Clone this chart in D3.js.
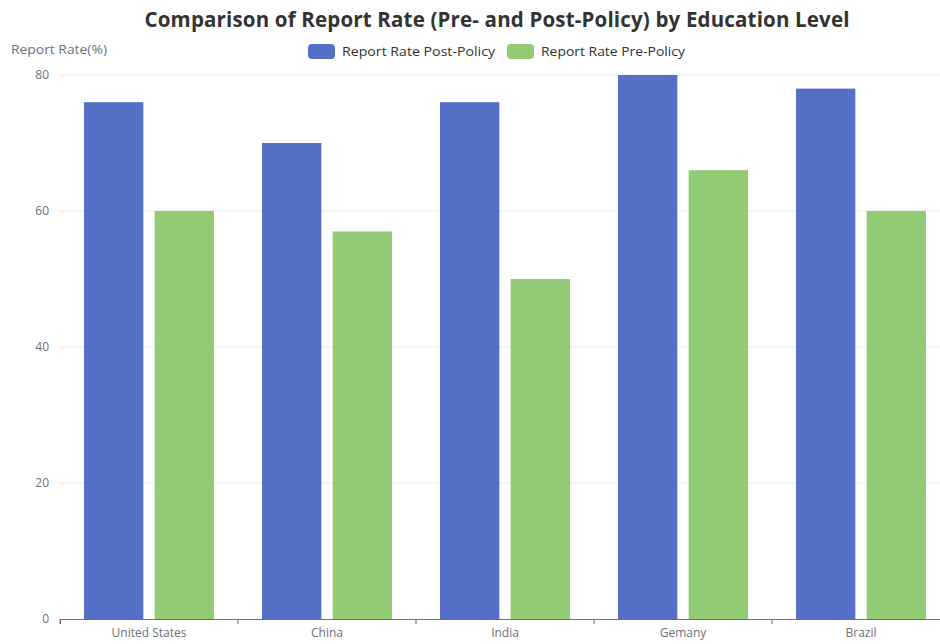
<!DOCTYPE html>
<html>
<head>
<meta charset="utf-8">
<script src="https://cdn.jsdelivr.net/npm/d3@7/dist/d3.min.js"></script>
<style>
  body { margin: 0; background: #fff; }
  svg { display: block; font-family: "Open Sans", "Noto Sans", sans-serif; }
</style>
</head>
<body>
<svg id="chart" width="940" height="644"></svg>
<script>
var countries = ["United States", "China", "India", "Gemany", "Brazil"];
var postPolicy = [76, 70, 76, 80, 78];
var prePolicy = [60, 57, 50, 66, 60];
var yTicks = [0, 20, 40, 60, 80];
var seriesNames = ["Report Rate Post-Policy", "Report Rate Pre-Policy"];
var seriesColors = ["#5470c6", "#91cc75"];

var svg = d3.select("#chart");
var plotLeft = 60, plotRight = 950, plotTop = 75, plotBottom = 619;

var x = d3.scaleBand().domain(countries).range([plotLeft, plotRight]);
var inner = d3.scaleBand().domain([0, 1]).range([0, x.bandwidth()])
	.paddingInner(0.16).paddingOuter(0.34);
var y = d3.scaleLinear().domain([0, 80]).range([plotBottom, plotTop]);

// grid
svg.append("g")
	.selectAll("line")
	.data(yTicks.filter(function(d) { return d > 0; }))
	.enter()
	.append("line")
	.attr("x1", plotLeft).attr("x2", plotRight)
	.attr("y1", function(d) { return y(d); })
	.attr("y2", function(d) { return y(d); })
	.attr("stroke", "#e8ebf2");

// bars
var rows = countries.map(function(c, i) { return [postPolicy[i], prePolicy[i]]; });
var groups = svg.append("g")
	.selectAll("g")
	.data(rows)
	.enter()
	.append("g")
	.attr("transform", function(d, i) { return "translate(" + x(countries[i]) + ",0)"; });

groups.selectAll("rect")
	.data(function(d) { return d; })
	.enter()
	.append("rect")
	.attr("x", function(d, i) { return inner(i); })
	.attr("width", inner.bandwidth())
	.attr("y", function(d) { return y(d); })
	.attr("height", function(d) { return y(0) - y(d); })
	.attr("fill", function(d, i) { return seriesColors[i]; });

// y axis labels
svg.append("g")
	.selectAll("text")
	.data(yTicks)
	.enter()
	.append("text")
	.attr("x", 49)
	.attr("y", function(d) { return y(d) + 4; })
	.attr("text-anchor", "end")
	.attr("font-size", 12)
	.attr("fill", "#6e7079")
	.text(function(d) { return d; });

// x axis
var xAxis = svg.append("g")
	.attr("transform", "translate(0," + plotBottom + ")")
	.call(d3.axisBottom(x).tickSizeOuter(0).tickSize(5));
xAxis.select(".domain").attr("stroke", "#6e7079");
xAxis.selectAll(".tick line").remove();
xAxis.selectAll(".tick text")
	.attr("font-size", 12)
	.attr("fill", "#6e7079")
	.attr("y", 7)
	.attr("dy", "0.95em")
	.attr("font-family", "\"Open Sans\", sans-serif");
var boundaries = countries.map(function(c) { return x(c); });
xAxis.selectAll(".bound")
	.data(boundaries)
	.enter()
	.append("line")
	.attr("x1", function(d) { return d; })
	.attr("x2", function(d) { return d; })
	.attr("y1", 0).attr("y2", 5)
	.attr("stroke", "#6e7079");

// title
svg.append("text")
	.attr("x", 497)
	.attr("y", 27)
	.attr("text-anchor", "middle")
	.attr("font-size", 20.5)
	.attr("font-weight", "bold")
	.attr("fill", "#333")
	.attr("textLength", 705)
	.text("Comparison of Report Rate (Pre- and Post-Policy) by Education Level");

// y axis name
svg.append("text")
	.attr("x", 11)
	.attr("y", 54)
	.attr("font-size", 13)
	.attr("fill", "#6e7079")
	.attr("textLength", 96)
	.attr("lengthAdjust", "spacingAndGlyphs")
	.text("Report Rate(%)");

// legend
var legendX = [308, 507];
var legendLen = [153, 144];
var legend = svg.append("g")
	.selectAll("g")
	.data(seriesNames)
	.enter()
	.append("g")
	.attr("transform", function(d, i) { return "translate(" + legendX[i] + ",44)"; });
legend.append("rect")
	.attr("width", 27).attr("height", 15).attr("rx", 4)
	.attr("fill", function(d, i) { return seriesColors[i]; });
legend.append("text")
	.attr("x", 34).attr("y", 12)
	.attr("font-size", 13)
	.attr("fill", "#333")
	.attr("textLength", function(d, i) { return legendLen[i]; })
	.attr("lengthAdjust", "spacingAndGlyphs")
	.text(function(d) { return d; });
</script>
</body>
</html>
